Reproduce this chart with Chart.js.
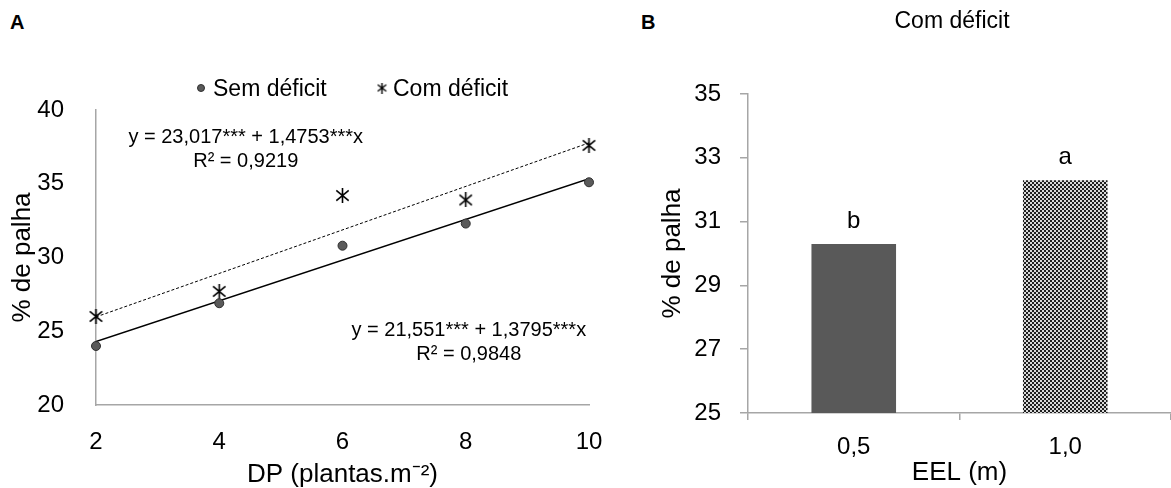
<!DOCTYPE html>
<html>
<head>
<meta charset="utf-8">
<script src="https://cdn.jsdelivr.net/npm/chart.js@4"></script>
<style>
  html, body { margin: 0; padding: 0; background: #fff; }
  body { width: 1171px; height: 488px; position: relative; overflow: hidden; font-family: 'Liberation Sans', Arial, sans-serif; }
  .panel { position: absolute; font-weight: bold; font-size: 20px; line-height: 20px; color: #000; }
  #chart-a { position: absolute; left: 0; top: 0; }
  #chart-b { position: absolute; left: 630px; top: 0; }
</style>
</head>
<body>
<div class="panel" style="left:10px;top:12px">A</div>
<div class="panel" style="left:641px;top:12px">B</div>
<canvas id="chart-a" width="620" height="488"></canvas>
<canvas id="chart-b" width="541" height="488"></canvas>
<script>
// --- data ---
const dpLevels = [2, 4, 6, 8, 10];
const semDeficit = [24.0, 26.9, 30.8, 32.3, 35.1];
const comDeficit = [26.0, 27.7, 34.2, 33.9, 37.6];
const trendX = [2, 10];
const trendSem = [24.31, 35.35];
const trendCom = [25.97, 37.77];
const eqSem = ["y = 21,551*** + 1,3795***x", "R² = 0,9848"];
const eqCom = ["y = 23,017*** + 1,4753***x", "R² = 0,9219"];

const eelLabels = ["0,5", "1,0"];
const eelValues = [30.3, 32.3];
const eelLetters = ["b", "a"];

const FONT = "'Liberation Sans', Arial, sans-serif";
const axisGray = "#a6a6a6";
Chart.defaults.font.family = FONT;
Chart.defaults.color = "#000";

const pts = (xs, ys) => xs.map((x, i) => ({ x: x, y: ys[i] }));

// star marker (X + vertical bar), like the spreadsheet one
function makeStar(size, lw) {
  const c = document.createElement("canvas");
  c.width = c.height = size;
  const g = c.getContext("2d");
  g.strokeStyle = "#000";
  g.lineWidth = lw;
  const m = lw / 2 + 0.5;
  g.beginPath();
  g.moveTo(m, m + 1); g.lineTo(size - m, size - m - 1);
  g.moveTo(size - m, m + 1); g.lineTo(m, size - m - 1);
  g.moveTo(size / 2, 0); g.lineTo(size / 2, size);
  g.stroke();
  return c;
}
const starBig = makeStar(15, 1.6);
const starSmall = makeStar(11, 1.4);

// fine checker fill for the second bar
function makeChecker() {
  const c = document.createElement("canvas");
  c.width = c.height = 4;
  const g = c.getContext("2d");
  g.fillStyle = "#d8d8d8";
  g.fillRect(0, 0, 4, 4);
  g.fillStyle = "#1e1e1e";
  g.fillRect(0, 0, 2, 2);
  g.fillRect(2, 2, 2, 2);
  return g.createPattern(c, "repeat");
}

// ============================================================
//  A) scatter + trend lines
// ============================================================
const textA = {
  id: "textA",
  afterDraw(chart) {
    const { ctx, scales: { x, y } } = chart;
    ctx.save();
    ctx.fillStyle = "#000";
    ctx.textBaseline = "alphabetic";

    // equations
    ctx.font = "20px " + FONT;
    ctx.textAlign = "center";
    let ex = x.getPixelForValue(4.43), ey = y.getPixelForValue(37.78);
    ctx.fillText(eqCom[0], ex, ey);
    ctx.fillText(eqCom[1], ex, ey + 24);
    ex = x.getPixelForValue(8.05); ey = y.getPixelForValue(24.68);
    ctx.fillText(eqSem[0], ex, ey);
    ctx.fillText(eqSem[1], ex, ey + 24);

    // legend
    ctx.fillStyle = "#5a5a5a";
    ctx.strokeStyle = "#2f2f2f";
    Chart.helpers.drawPoint(ctx, { pointStyle: "circle", radius: 3.5, borderWidth: 1 }, 201, 88);
    ctx.drawImage(starSmall, 382 - 5.5, 88 - 5.5);
    ctx.fillStyle = "#000";
    ctx.font = "23px " + FONT;
    ctx.textAlign = "left";
    ctx.fillText("Sem déficit", 213, 96);
    ctx.fillText("Com déficit", 393, 96);
    ctx.restore();
  },
};

new Chart(document.getElementById("chart-a"), {
  type: "scatter",
  data: {
    datasets: [
      {
        label: "Sem déficit",
        data: pts(dpLevels, semDeficit),
        pointStyle: "circle",
        pointRadius: 4.5,
        backgroundColor: "#5a5a5a",
        borderColor: "#2f2f2f",
        borderWidth: 1,
        clip: false,
        order: 1,
      },
      {
        label: "Com déficit",
        data: pts(dpLevels, comDeficit),
        pointStyle: starBig,
        clip: false,
        order: 1,
      },
      {
        label: "trend sem",
        data: pts(trendX, trendSem),
        showLine: true,
        borderColor: "#000",
        borderWidth: 1.5,
        pointRadius: 0,
        order: 2,
      },
      {
        label: "trend com",
        data: pts(trendX, trendCom),
        showLine: true,
        borderColor: "#000",
        borderWidth: 1,
        borderDash: [3, 2],
        pointRadius: 0,
        order: 2,
      },
    ],
  },
  options: {
    responsive: false,
    animation: false,
    layout: { padding: { top: 110, right: 31, left: 0, bottom: 0 } },
    plugins: { legend: { display: false }, tooltip: { enabled: false } },
    scales: {
      x: {
        type: "linear",
        min: 2,
        max: 10,
        ticks: { stepSize: 2, padding: 15, font: { size: 24 } },
        grid: { display: false },
        border: { color: axisGray, width: 1.5 },
        title: { display: true, text: "DP (plantas.m⁻²)", font: { size: 26, lineHeight: 1 }, padding: { bottom: 0, top: 0 } },
        afterFit: (s) => { s.height = 83; },
      },
      y: {
        min: 20,
        max: 40,
        ticks: { stepSize: 5, padding: 24, font: { size: 24 } },
        grid: { display: false },
        border: { color: axisGray, width: 1.5 },
        title: { display: true, text: "% de palha", font: { size: 26, lineHeight: 1 }, padding: { top: 10, bottom: 0 } },
        afterFit: (s) => { s.width = 96; },
      },
    },
  },
  plugins: [textA],
});

// ============================================================
//  B) bars "Com déficit"
// ============================================================
const textB = {
  id: "textB",
  afterDraw(chart) {
    const { ctx } = chart;
    ctx.save();
    ctx.fillStyle = "#000";
    ctx.textAlign = "center";
    ctx.textBaseline = "alphabetic";
    ctx.font = "23px " + FONT;
    ctx.fillText("Com déficit", 322, 28);
    ctx.font = "24px " + FONT;
    chart.getDatasetMeta(0).data.forEach((bar, i) => {
      ctx.fillText(eelLetters[i], bar.x, bar.y - 16);
    });
    ctx.restore();
  },
};

new Chart(document.getElementById("chart-b"), {
  type: "bar",
  data: {
    labels: eelLabels,
    datasets: [
      {
        data: eelValues,
        backgroundColor: ["#595959", makeChecker()],
        barPercentage: 0.4,
        categoryPercentage: 1,
      },
    ],
  },
  options: {
    responsive: false,
    animation: false,
    layout: { padding: { top: 94, right: 0, left: 0, bottom: 0 } },
    plugins: { legend: { display: false }, tooltip: { enabled: false } },
    scales: {
      x: {
        ticks: { padding: 13, font: { size: 24 } },
        grid: { drawOnChartArea: false, color: axisGray, tickLength: 7, lineWidth: 1.5 },
        border: { color: axisGray, width: 1.5 },
        title: { display: true, text: "EEL (m)", font: { size: 26, lineHeight: 1 }, padding: { bottom: 2, top: 0 } },
        afterFit: (s) => { s.height = 75; },
      },
      y: {
        min: 25,
        max: 35,
        ticks: { stepSize: 2, padding: 19, font: { size: 24 } },
        grid: { drawOnChartArea: false, color: axisGray, tickLength: 8, lineWidth: 1.5 },
        border: { color: axisGray, width: 1.5 },
        title: { display: true, text: "% de palha", font: { size: 26, lineHeight: 1 }, padding: { top: 30, bottom: 0 } },
        afterFit: (s) => { s.width = 118; },
      },
    },
  },
  plugins: [textB],
});
</script>
</body>
</html>
